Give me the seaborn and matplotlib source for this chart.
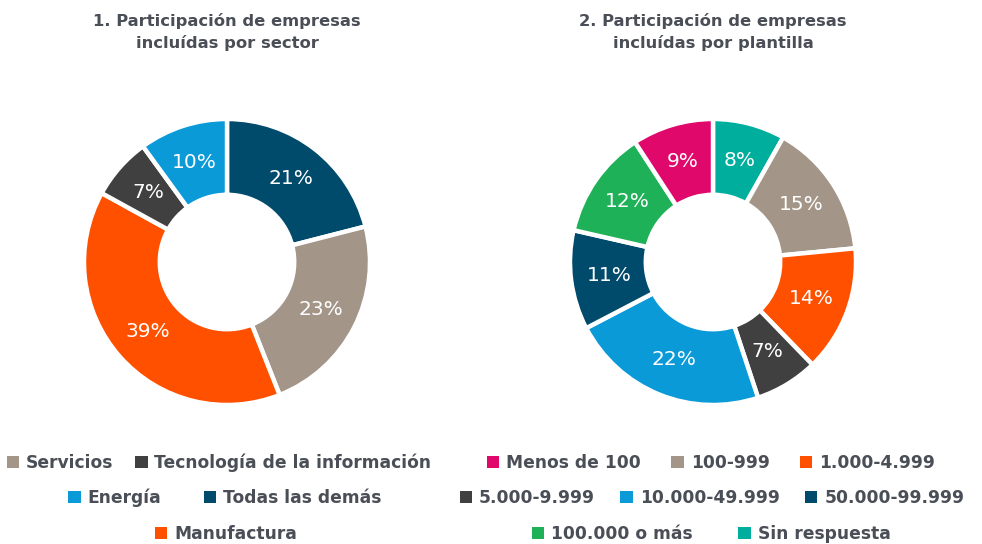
import matplotlib
matplotlib.use("Agg")
import matplotlib.pyplot as plt
from matplotlib.patches import Patch
import seaborn as sns

sns.set_theme(style="white")
plt.rcParams['font.family'] = ['DejaVu Sans']

# ---- data ----
sector_labels = ["Todas las demás", "Servicios", "Manufactura", "Tecnología de la información", "Energía"]
sector_values = [21, 23, 39, 7, 10]
sector_colors = ["#004A6B", "#A39689", "#FF5000", "#404040", "#0A9AD8"]
sector_legend_rows = [["Servicios", "Tecnología de la información"],
                      ["Energía", "Todas las demás"],
                      ["Manufactura"]]

size_labels = ["Sin respuesta", "100-999", "1.000-4.999", "5.000-9.999",
               "10.000-49.999", "50.000-99.999", "100.000 o más", "Menos de 100"]
size_values = [8, 15, 14, 7, 22, 11, 12, 9]
size_colors = ["#00AE9D", "#A39689", "#FF5000", "#404040",
               "#0A9AD8", "#004A6B", "#1FB157", "#E0086A"]
size_legend_rows = [["Menos de 100", "100-999", "1.000-4.999"],
                    ["5.000-9.999", "10.000-49.999", "50.000-99.999"],
                    ["100.000 o más", "Sin respuesta"]]

titles = ["1. Participación de empresas\nincluídas por sector",
          "2. Participación de empresas\nincluídas por plantilla"]

TEXT = "#4A4F57"
W, H = 982, 544
fig = plt.figure(figsize=(W / 100, H / 100), dpi=100)

R = 143  # outer radius in px


def add_donut(cx, cy, labels, values, colors, title, legend_rows, row_x, row_gap):
    ax = fig.add_axes([(cx - R) / W, 1 - (cy + R) / H, 2 * R / W, 2 * R / H])
    it = iter(values)
    wedges, texts, autotexts = ax.pie(
        values, colors=colors, startangle=90, counterclock=False,
        radius=1.0,
        autopct=lambda p: f"{next(it)}%", pctdistance=0.735,
        wedgeprops=dict(width=0.53, edgecolor="white", linewidth=3.2),
        textprops=dict(color="white", fontsize=14.5, fontweight="normal"))
    for w in wedges:
        w.set_clip_on(False)
    ax.set_xlim(-1, 1)
    ax.set_ylim(-1, 1)
    ax.set_aspect("equal")
    ax.axis("off")
    fig.text(cx / W, 1 - 32 / H, title, ha="center", va="center",
             fontsize=11.8, fontweight="bold", color=TEXT, linespacing=1.4)
    cmap = dict(zip(labels, colors))
    ys = [463, 498, 534]
    for row, y, x, gap in zip(legend_rows, ys, row_x, row_gap):
        handles = [Patch(facecolor=cmap[l], edgecolor="none") for l in row]
        fig.legend(handles, row, loc="center", ncol=len(row),
                   bbox_to_anchor=(x / W, 1 - y / H), bbox_transform=fig.transFigure,
                   frameon=False, handlelength=0.72, handleheight=0.72,
                   handletextpad=0.4, columnspacing=gap,
                   prop=dict(size=12.3, weight="bold"), labelcolor=TEXT,
                   borderpad=0, borderaxespad=0)


add_donut(227, 262, sector_labels, sector_values, sector_colors, titles[0],
          sector_legend_rows, [219, 225, 226], [1.3, 2.5, 1.0])
add_donut(713, 262, size_labels, size_values, size_colors, titles[1],
          size_legend_rows, [711, 712, 711], [1.8, 1.5, 2.7])

fig.savefig("out.png", dpi=100, facecolor="white")
